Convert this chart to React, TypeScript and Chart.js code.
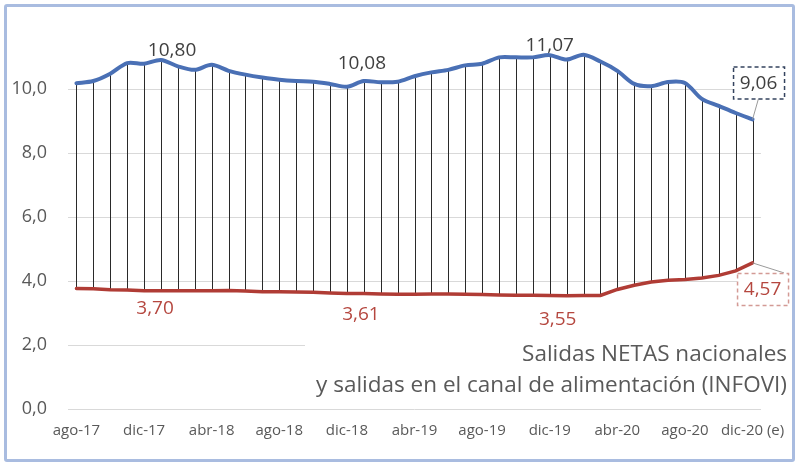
import React, { useEffect, useRef } from "react";
import { Chart, registerables } from "chart.js";

Chart.register(...registerables);

const categories = [
  "ago-17", "sep-17", "oct-17", "nov-17", "dic-17",
  "ene-18", "feb-18", "mar-18", "abr-18", "may-18", "jun-18", "jul-18", "ago-18", "sep-18", "oct-18", "nov-18", "dic-18",
  "ene-19", "feb-19", "mar-19", "abr-19", "may-19", "jun-19", "jul-19", "ago-19", "sep-19", "oct-19", "nov-19", "dic-19",
  "ene-20", "feb-20", "mar-20", "abr-20", "may-20", "jun-20", "jul-20", "ago-20", "sep-20", "oct-20", "nov-20", "dic-20 (e)",
];

const salidasNetas = [
  10.19, 10.26, 10.49, 10.82, 10.80,
  10.92, 10.72, 10.61, 10.77, 10.58, 10.46, 10.37, 10.30, 10.26, 10.24, 10.17, 10.08,
  10.26, 10.22, 10.24, 10.41, 10.53, 10.61, 10.75, 10.80, 11.00, 11.00, 11.00, 11.07,
  10.93, 11.08, 10.87, 10.58, 10.17, 10.10, 10.23, 10.20, 9.70, 9.48, 9.26, 9.06,
];

const canalAlimentacion = [
  3.77, 3.76, 3.73, 3.72, 3.70,
  3.70, 3.70, 3.70, 3.70, 3.71, 3.69, 3.67, 3.67, 3.66, 3.65, 3.63, 3.61,
  3.61, 3.60, 3.59, 3.59, 3.60, 3.60, 3.59, 3.58, 3.57, 3.56, 3.56, 3.55,
  3.54, 3.55, 3.55, 3.74, 3.87, 3.97, 4.03, 4.05, 4.10, 4.18, 4.32, 4.57,
];

const yTickStep = 2;
const xTickEvery = 4;
const titleLines = [
  "Salidas NETAS nacionales",
  "y salidas en el canal de alimentación (INFOVI)",
];

const FONT = "'Open Sans', sans-serif";
const BLUE = "#4A70B5";
const RED = "#B03C35";
const GREY_TEXT = "#595959";

type Lbl = {
  ds: number;
  idx: number;
  dx: number;
  dy: number;
  color: string;
  box?: string;
};

const annotations: Lbl[] = [
  { ds: 0, idx: 4, dx: 28, dy: -14, color: "#404040" },
  { ds: 0, idx: 16, dx: 15, dy: -24, color: "#404040" },
  { ds: 0, idx: 28, dx: 0, dy: -11, color: "#404040" },
  { ds: 0, idx: 40, dx: 6, dy: -37, color: "#404040", box: "#34435E" },
  { ds: 1, idx: 4, dx: 11, dy: 17, color: "#B5473F" },
  { ds: 1, idx: 16, dx: 14, dy: 20, color: "#B5473F" },
  { ds: 1, idx: 28, dx: 8, dy: 23, color: "#B5473F" },
  { ds: 1, idx: 40, dx: 10, dy: 26, color: "#B5473F", box: "#D39A95" },
];

const fmt = (v: number) => v.toFixed(2).replace(".", ",");

const backgroundPlugin = {
  id: "bgAndDrops",
  beforeDatasetsDraw(chart: any) {
    const { ctx, scales } = chart;
    const x = scales.x;
    const y = scales.y;
    ctx.save();
    ctx.fillStyle = "#ffffff";
    ctx.fillRect(305, 322, 490, 80);
    ctx.strokeStyle = "#2a2a2a";
    ctx.lineWidth = 1;
    for (let i = 0; i < categories.length; i++) {
      const px = Math.round(x.getPixelForValue(i)) + 0.5;
      ctx.beginPath();
      ctx.moveTo(px, y.getPixelForValue(salidasNetas[i]));
      ctx.lineTo(px, y.getPixelForValue(canalAlimentacion[i]));
      ctx.stroke();
    }
    ctx.restore();
  },
  afterDatasetsDraw(chart: any) {
    const { ctx, scales } = chart;
    const x = scales.x;
    const y = scales.y;
    ctx.save();
    ctx.font = `19px ${FONT}`;
    ctx.textAlign = "center";
    ctx.textBaseline = "middle";
    for (const a of annotations) {
      const v = a.ds === 0 ? salidasNetas[a.idx] : canalAlimentacion[a.idx];
      const px = x.getPixelForValue(a.idx);
      const py = y.getPixelForValue(v);
      const cx = px + a.dx;
      const cy = py + a.dy;
      const txt = fmt(v);
      if (a.box) {
        const w = 51;
        const h = 32;
        const bx = cx - w / 2;
        const by = cy - h / 2;
        ctx.strokeStyle = "#9a9a9a";
        ctx.lineWidth = 1;
        ctx.setLineDash([]);
        ctx.beginPath();
        ctx.moveTo(px, py);
        if (a.ds === 0) ctx.lineTo(cx, by + h);
        else ctx.lineTo(bx + w - 4, by);
        ctx.stroke();
        ctx.fillStyle = "#ffffff";
        ctx.fillRect(bx, by, w, h);
        ctx.strokeStyle = a.box;
        ctx.lineWidth = 1.5;
        ctx.setLineDash([4, 3]);
        ctx.strokeRect(bx + 0.5, by + 0.5, w, h);
        ctx.setLineDash([]);
      }
      ctx.fillStyle = a.color;
      ctx.fillText(txt, cx, cy + 1);
    }
    ctx.font = `22.5px ${FONT}`;
    ctx.fillStyle = GREY_TEXT;
    ctx.textAlign = "right";
    ctx.textBaseline = "alphabetic";
    ctx.fillText(titleLines[0], 787, 361);
    ctx.fillText(titleLines[1], 787, 392);
    ctx.restore();
  },
};

export default function App() {
  const ref = useRef<HTMLCanvasElement | null>(null);

  useEffect(() => {
    if (!ref.current) return;
    const chart = new Chart(ref.current, {
      type: "line",
      data: {
        labels: categories,
        datasets: [
          {
            label: "Salidas NETAS nacionales",
            data: salidasNetas,
            borderColor: BLUE,
            borderWidth: 4,
            pointRadius: 0,
            tension: 0.3,
            fill: false,
            borderCapStyle: "round",
          },
          {
            label: "Salidas canal alimentación",
            data: canalAlimentacion,
            borderColor: RED,
            borderWidth: 3.5,
            pointRadius: 0,
            tension: 0,
            fill: false,
            borderCapStyle: "round",
          },
        ],
      },
      options: {
        responsive: false,
        animation: false,
        layout: { padding: { top: 8, right: 39, bottom: 0, left: 0 } },
        plugins: {
          legend: { display: false },
          tooltip: { enabled: false },
          title: { display: false },
        },
        scales: {
          x: {
            offset: true,
            grid: { display: false, drawTicks: false },
            border: { display: false },
            ticks: {
              autoSkip: false,
              maxRotation: 0,
              minRotation: 0,
              padding: 13,
              color: GREY_TEXT,
              font: { family: FONT, size: 15 },
              callback: (_v: any, i: number) => (i % xTickEvery === 0 ? categories[i] : ""),
            },
            afterFit: (s: any) => {
              s.height = 56;
            },
          },
          y: {
            min: 0,
            max: 11.8,
            grid: { color: "#D9D9D9", lineWidth: 1, drawTicks: false },
            border: { display: false },
            ticks: {
              stepSize: yTickStep,
              padding: 21,
              color: GREY_TEXT,
              font: { family: FONT, size: 18 },
              callback: (v: any) => Number(v).toFixed(1).replace(".", ","),
            },
            afterBuildTicks: (s: any) => {
              s.ticks = s.ticks.filter(
                (t: any) => Math.abs(t.value / yTickStep - Math.round(t.value / yTickStep)) < 1e-6
              );
            },
            afterFit: (s: any) => {
              s.width = 68;
            },
          },
        },
      },
      plugins: [backgroundPlugin],
    });
    return () => chart.destroy();
  }, []);

  return (
    <div style={{ position: "absolute", left: 0, top: 0, width: 800, height: 465, background: "#fff" }}>
      <canvas ref={ref} width={800} height={465} style={{ position: "absolute", left: 0, top: 0, width: 800, height: 465 }} />
      <div
        style={{
          position: "absolute",
          left: 4,
          top: 4,
          width: 791,
          height: 458,
          boxSizing: "border-box",
          border: "3px solid #A9BCE0",
          borderRadius: 3,
          pointerEvents: "none",
        }}
      />
    </div>
  );
}
